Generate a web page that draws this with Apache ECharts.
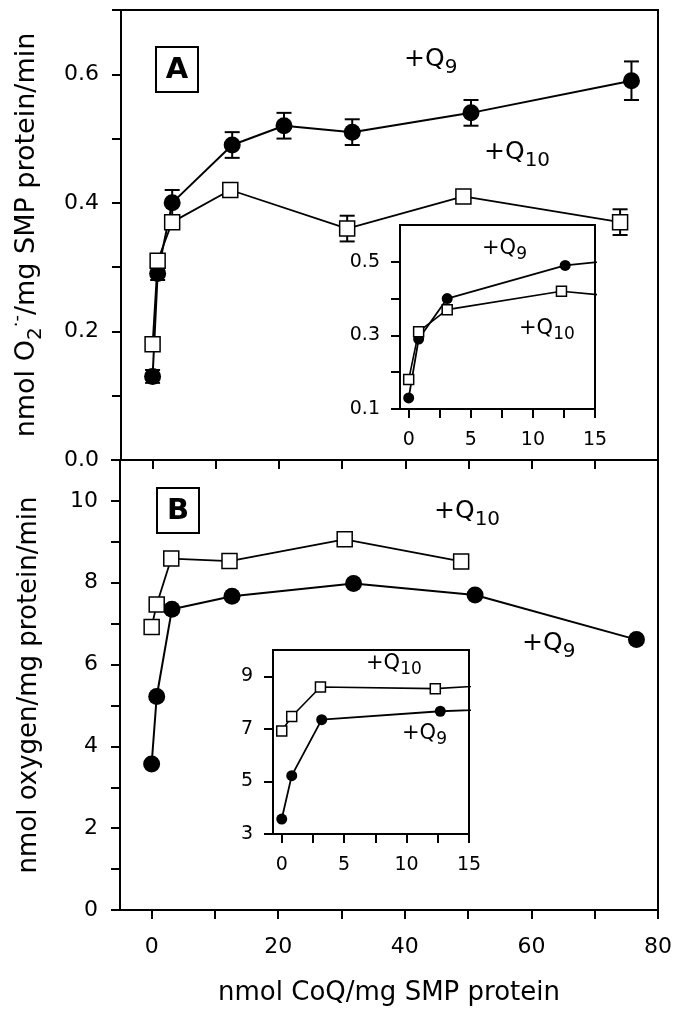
<!DOCTYPE html>
<html>
<head>
<meta charset="utf-8">
<script src="https://cdn.jsdelivr.net/npm/echarts@6/dist/echarts.min.js"></script>
<style>html,body{margin:0;padding:0;background:#fff}#c{width:684px;height:1024px}</style>
</head>
<body>
<div id="c"></div>
<script>
// ---------------- data ----------------
// Panel A: superoxide production (nmol O2-/mg SMP protein/min)
const aQ9x   = [0, 0.8, 3.1, 12.6, 20.8, 31.6, 50.4, 75.8];
const aQ9y   = [0.13, 0.29, 0.40, 0.49, 0.52, 0.51, 0.54, 0.59];
const aQ9e   = [0.01, 0.01, 0.02, 0.02, 0.02, 0.02, 0.02, 0.03];
const aQ10x  = [0, 0.8, 3.1, 12.3, 30.8, 49.2, 74.0];
const aQ10y  = [0.18, 0.31, 0.37, 0.42, 0.36, 0.41, 0.37];
const aQ10e  = [0.01, 0.01, 0.01, 0.01, 0.02, 0.01, 0.02];
// Panel B: oxygen consumption (nmol oxygen/mg protein/min)
const bQ9x   = [0, 0.8, 3.2, 12.7, 31.9, 51.1, 76.6];
const bQ9y   = [3.57, 5.22, 7.35, 7.67, 7.98, 7.70, 6.61];
const bQ10x  = [0, 0.8, 3.1, 12.3, 30.5, 48.9];
const bQ10y  = [6.92, 7.47, 8.59, 8.53, 9.06, 8.52];
// tick values
const xMainTicks   = [0, 10, 20, 30, 40, 50, 60, 70, 80];
const xMainLabels  = [0, 20, 40, 60, 80];
const xInsetTicks  = [0, 2.5, 5, 7.5, 10, 12.5, 15];
const xInsetLabels = [0, 5, 10, 15];
const yATicks      = [0, 0.1, 0.2, 0.3, 0.4, 0.5, 0.6, 0.7];
const yALabels     = [0, 0.2, 0.4, 0.6];
const yAInTicks    = [0.1, 0.2, 0.3, 0.4, 0.5];
const yAInLabels   = [0.1, 0.3, 0.5];
const yBTicks      = [0, 1, 2, 3, 4, 5, 6, 7, 8, 9, 10, 11];
const yBLabels     = [0, 2, 4, 6, 8, 10];
const yBInTicks    = [3, 5, 7, 9];
const yBInLabels   = [3, 5, 7, 9];
// texts
const xTitle  = 'nmol CoQ/mg SMP protein';
const yTitleB = 'nmol oxygen/mg protein/min';

// ---------------- chart ----------------
const FONT = 'DejaVu Sans';
const BLACK = '#000';
const chart = echarts.init(document.getElementById('c'), null, {renderer: 'canvas'});

const pairs = (xs, ys) => xs.map((v, i) => [v, ys[i]]);
const triples = (xs, ys, es) => xs.map((v, i) => [v, ys[i], es[i]]);

function xAxis(grid, min, max, ticks, labels, fs, margin, extra) {
  return Object.assign({
    type: 'value', gridIndex: grid, min: min, max: max,
    axisLine: {show: true, onZero: false, lineStyle: {color: BLACK, width: 2}},
    axisTick: {show: true, inside: false, length: 9, customValues: ticks, lineStyle: {color: BLACK, width: 2}},
    axisLabel: {show: labels !== null, customValues: labels || [], color: BLACK, fontFamily: FONT, fontSize: fs, margin: margin},
    splitLine: {show: false}
  }, extra || {});
}
function yAxis(grid, min, max, ticks, labels, fs, margin, fmt, extra) {
  return Object.assign({
    type: 'value', gridIndex: grid, min: min, max: max,
    axisLine: {show: true, onZero: false, lineStyle: {color: BLACK, width: 2}},
    axisTick: {show: true, inside: false, length: 9, customValues: ticks, lineStyle: {color: BLACK, width: 2}},
    axisLabel: {show: true, customValues: labels, color: BLACK, fontFamily: FONT, fontSize: fs, margin: margin, formatter: fmt},
    splitLine: {show: false}
  }, extra || {});
}

function errRender(capW, lw) {
  return function (params, api) {
    const x = api.value(0), y = api.value(1), e = api.value(2);
    const t = api.coord([x, y + e]);
    const b = api.coord([x, y - e]);
    const h = capW / 2;
    const st = {stroke: BLACK, lineWidth: lw};
    return {type: 'group', children: [
      {type: 'line', shape: {x1: t[0], y1: t[1], x2: b[0], y2: b[1]}, style: st},
      {type: 'line', shape: {x1: t[0] - h, y1: t[1], x2: t[0] + h, y2: t[1]}, style: st},
      {type: 'line', shape: {x1: b[0] - h, y1: b[1], x2: b[0] + h, y2: b[1]}, style: st}
    ]};
  };
}
function lineSeries(ax, xs, ys, symbol, size, filled, lw) {
  return {
    type: 'line', xAxisIndex: ax, yAxisIndex: ax, data: pairs(xs, ys),
    symbol: symbol, symbolSize: size, showSymbol: true, clip: true, z: 5,
    lineStyle: {color: BLACK, width: lw},
    itemStyle: filled ? {color: BLACK, borderColor: BLACK, borderWidth: 0}
                      : {color: '#fff', borderColor: BLACK, borderWidth: 1.5, opacity: 1},
    emphasis: {disabled: true}, animation: false
  };
}
function errSeries(ax, xs, ys, es, capW, lw) {
  return {
    type: 'custom', xAxisIndex: ax, yAxisIndex: ax, data: triples(xs, ys, es),
    renderItem: errRender(capW, lw), z: 3, clip: true, animation: false
  };
}

const fmt1 = v => (+v).toFixed(1);
const fmt0 = v => String(Math.round(v));

const ann = (x, y, sub, big, small) => ({
  type: 'text', left: x, top: y, z: 50,
  style: {
    text: '{m|+Q}{s|' + sub + '}',
    fill: BLACK,
    rich: {
      m: {fontFamily: FONT, fontSize: big, lineHeight: Math.round(big * 1.45), verticalAlign: 'middle', fill: BLACK},
      s: {fontFamily: FONT, fontSize: small, verticalAlign: 'bottom', fill: BLACK}
    }
  }
});
const panelLabel = (x, y, letter) => ({
  type: 'group', left: x, top: y, z: 50, children: [
    {type: 'rect', shape: {x: 0, y: 0, width: 42, height: 45}, style: {fill: '#fff', stroke: BLACK, lineWidth: 2}},
    {type: 'text', x: 21, y: 23.5, style: {text: letter, fontFamily: FONT, fontWeight: 'bold', fontSize: 29, fill: BLACK, align: 'center', verticalAlign: 'middle'}}
  ]
});

const option = {
  backgroundColor: '#fff',
  animation: false,
  grid: [
    {left: 120, top: 10, width: 538, height: 450, show: true, borderColor: BLACK, borderWidth: 2, backgroundColor: 'transparent'},
    {left: 400, top: 225, width: 195, height: 184, show: true, borderColor: BLACK, borderWidth: 2, backgroundColor: '#fff', z: 4},
    {left: 120, top: 460, width: 538, height: 450, show: true, borderColor: BLACK, borderWidth: 2, backgroundColor: 'transparent'},
    {left: 273, top: 650, width: 196, height: 184, show: true, borderColor: BLACK, borderWidth: 2, backgroundColor: '#fff', z: 4}
  ],
  xAxis: [
    xAxis(0, -5, 80, xMainTicks, null, 22, 26),
    xAxis(1, -0.7, 15, xInsetTicks, xInsetLabels, 19, 22, {z: 6}),
    xAxis(2, -5, 80, xMainTicks, xMainLabels, 22, 26, {
      name: xTitle, nameLocation: 'middle', nameGap: 70,
      nameTextStyle: {fontFamily: FONT, fontSize: 26, color: BLACK}
    }),
    xAxis(3, -0.7, 15, xInsetTicks, xInsetLabels, 19, 22, {z: 6})
  ],
  yAxis: [
    yAxis(0, 0, 0.7, yATicks, yALabels, 22, 22, fmt1, {
      name: '{a|nmol O}{s|2}{p|·-}{a|/mg SMP protein/min}', nameLocation: 'middle', nameGap: 75, nameRotate: 90,
      nameTextStyle: {color: BLACK, rich: {
        a: {fontFamily: FONT, fontSize: 27, lineHeight: 38, verticalAlign: 'middle', color: BLACK},
        s: {fontFamily: FONT, fontSize: 20, verticalAlign: 'bottom', color: BLACK},
        p: {fontFamily: FONT, fontSize: 18, verticalAlign: 'top', color: BLACK}
      }}
    }),
    yAxis(1, 0.1, 0.6, yAInTicks, yAInLabels, 19, 20, fmt1, {z: 6}),
    yAxis(2, 0, 11, yBTicks, yBLabels, 22, 22, fmt0, {
      name: yTitleB, nameLocation: 'middle', nameGap: 78, nameRotate: 90,
      nameTextStyle: {fontFamily: FONT, fontSize: 26, color: BLACK}
    }),
    yAxis(3, 3, 10, yBInTicks, yBInLabels, 19, 20, fmt0, {z: 6})
  ],
  series: [
    // Panel A main
    errSeries(0, aQ9x, aQ9y, aQ9e, 15, 2),
    lineSeries(0, aQ9x, aQ9y, 'circle', 17, true, 2),
    errSeries(0, aQ10x, aQ10y, aQ10e, 15, 2),
    lineSeries(0, aQ10x, aQ10y, 'rect', 15, false, 1.8),
    // Panel A inset
    errSeries(1, aQ9x, aQ9y, aQ9e, 12, 1.8),
    lineSeries(1, aQ9x, aQ9y, 'circle', 11, true, 1.8),
    errSeries(1, aQ10x, aQ10y, aQ10e, 12, 1.8),
    lineSeries(1, aQ10x, aQ10y, 'rect', 10, false, 1.6),
    // Panel B main
    lineSeries(2, bQ9x, bQ9y, 'circle', 17, true, 2),
    lineSeries(2, bQ10x, bQ10y, 'rect', 15, false, 1.8),
    // Panel B inset
    lineSeries(3, bQ9x, bQ9y, 'circle', 11, true, 1.8),
    lineSeries(3, bQ10x, bQ10y, 'rect', 10, false, 1.6)
  ],
  graphic: [
    panelLabel(155, 46, 'A'),
    panelLabel(156, 487, 'B'),
    ann(404, 47, '9', 25, 20),
    ann(484, 140, '10', 25, 20),
    ann(482, 238, '9', 21, 17),
    ann(519, 318, '10', 21, 17),
    ann(434, 499, '10', 25, 20),
    ann(522, 631, '9', 25, 20),
    ann(366, 653, '10', 21, 17),
    ann(402, 723, '9', 21, 17)
  ]
};
chart.setOption(option);
</script>
</body>
</html>
